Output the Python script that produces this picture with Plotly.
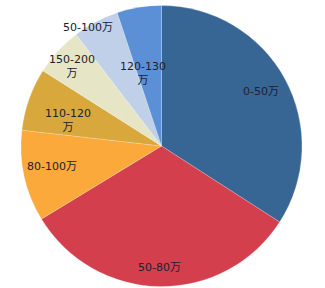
import math
import plotly.graph_objects as go

labels = ["0-50万", "50-80万", "80-100万", "110-120<br>万", "150-200<br>万", "50-100万", "120-130<br>万"]
values = [34.1, 32.2, 10.5, 7.2, 5.6, 5.3, 5.1]
colors = ["#376594", "#D33F4D", "#FBA93A", "#D8A83C", "#E6E6C6", "#C0D0E8", "#5B8FD6"]

# label placement style: radial fraction and angular offset (degrees) per slice
label_r = [0.81, 0.86, 0.79, 0.69, 0.85, 0.99, 0.53]
label_da = [0, 0, 2, -4, -1, -4, -5]

fig = go.Figure(go.Pie(
    labels=labels,
    values=values,
    sort=False,
    direction="clockwise",
    rotation=0,
    marker=dict(colors=colors, line=dict(color="rgba(255,255,255,0.4)", width=0.5)),
    textinfo="none",
    showlegend=False,
    hoverinfo="label+percent",
))

total = sum(values)
cum = 0.0
annotations = []
for lab, v, rf, da in zip(labels, values, label_r, label_da):
    mid = (cum + v / 2) / total * 360 + da
    cum += v
    th = math.radians(mid)
    annotations.append(dict(
        x=0.5 + 0.5 * rf * math.sin(th),
        y=0.5 + 0.5 * rf * math.cos(th),
        xref="paper", yref="paper",
        text=lab, showarrow=False,
        xanchor="center", yanchor="middle",
        font=dict(family="DejaVu Sans, Noto Sans CJK SC", size=11, color="#20202e"),
    ))

fig.update_layout(
    width=325, height=288,
    margin=dict(l=20.5, r=22.5, t=5, b=1),
    paper_bgcolor="white",
    plot_bgcolor="white",
    annotations=annotations,
)
fig.write_html("out.html")
